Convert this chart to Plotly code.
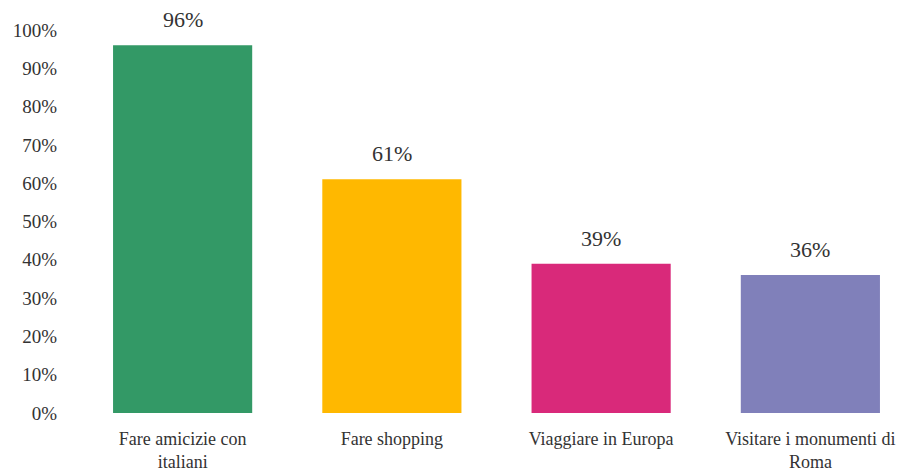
import plotly.graph_objects as go

categories = ["Fare amicizie con<br>italiani", "Fare shopping", "Viaggiare in Europa", "Visitare i monumenti di<br>Roma"]
values = [0.96, 0.61, 0.39, 0.36]
colors = ["#339966", "#FFB800", "#D9297A", "#8080BA"]
tick_vals = [0, 0.1, 0.2, 0.3, 0.4, 0.5, 0.6, 0.7, 0.8, 0.9, 1.0]
tick_text = ["0%", "10%", "20%", "30%", "40%", "50%", "60%", "70%", "80%", "90%", "100%"]

font_family = "Liberation Serif, Times New Roman, serif"

fig = go.Figure(go.Bar(
    x=categories, y=values,
    marker=dict(color=colors, line=dict(width=0)),
    width=0.665,
    cliponaxis=False,
))

for c, v in zip(categories, values):
    fig.add_annotation(x=c, y=v, text=f"{round(v*100)}%", showarrow=False,
                       yanchor="bottom", yshift=11,
                       font=dict(size=22, color="#333333", family=font_family))

fig.update_layout(
    width=907, height=465,
    margin=dict(l=70, r=0, t=22, b=60, autoexpand=False),
    plot_bgcolor="white", paper_bgcolor="white",
    showlegend=False,
    font=dict(family=font_family, color="#333333", size=19),
)
fig.update_yaxes(range=[0, 1], tickvals=tick_vals, ticktext=tick_text, automargin=False,
                 showgrid=False, zeroline=False, showline=False,
                 ticks="outside", ticklen=16, tickcolor="rgba(0,0,0,0)",
                 tickfont=dict(size=19, family=font_family, color="#333333"))
fig.update_xaxes(showgrid=False, showline=False, zeroline=False, automargin=False,
                 ticks="outside", ticklen=9, tickcolor="rgba(0,0,0,0)",
                 tickfont=dict(size=18, family=font_family, color="#333333"))

fig.write_html("out.html")
